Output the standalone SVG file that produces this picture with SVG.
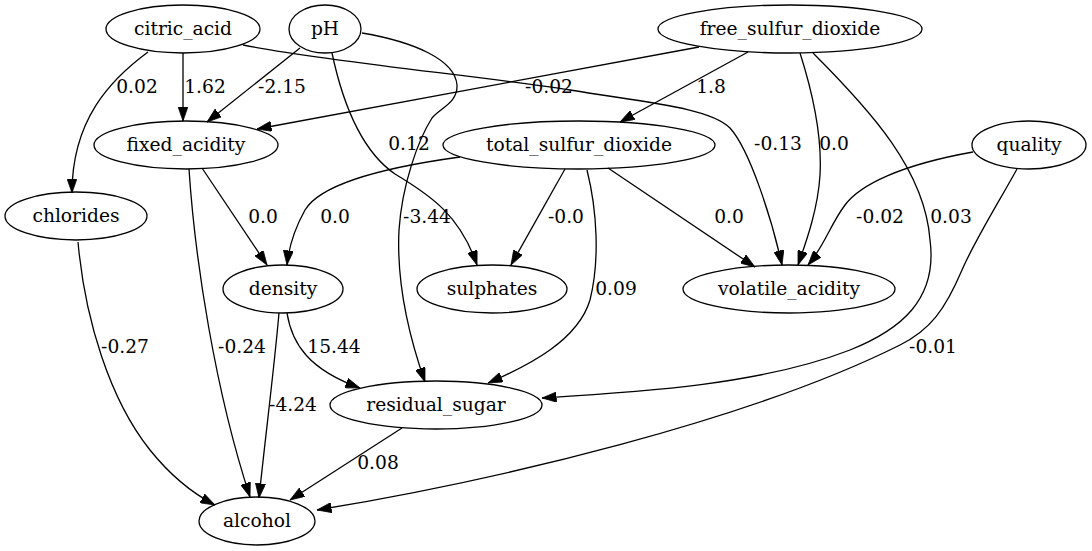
<svg xmlns="http://www.w3.org/2000/svg" width="1092" height="551" viewBox="0 0 1092 551">
<style>
.n ellipse{fill:none;stroke:#000;stroke-width:1.3}
.n text,.lbl text{font-family:"DejaVu Serif",serif;font-size:18.67px;fill:#000;text-anchor:middle}
.e path{fill:none;stroke:#000;stroke-width:1.3;marker-end:url(#ah)}
</style>
<defs>
<marker id="ah" viewBox="0 0 10 7" refX="10" refY="3.5" markerUnits="userSpaceOnUse" markerWidth="14.5" markerHeight="10.2" orient="auto">
<path d="M0,0 L10,3.5 L0,7 z" fill="#000" stroke="#000" stroke-width="0.5"/>
</marker>
</defs>
<rect width="1092" height="551" fill="#fff"/>
<g id="connectors" class="e">
<path d="M148,52 C110,80 72,120 72,193"/>
<path d="M183,53 L183,121"/>
<path d="M243,45 C330,62 480,76 570,90 C650,103 710,108 730,128 C750,150 772,220 782,265"/>
<path d="M300,48 L207,122"/>
<path d="M332,53 C342,100 360,150 395,174 C430,195 460,215 477,265"/>
<path d="M362,33 C415,42 455,60 457,85 C458,103 440,108 432,118 C418,140 402,185 399,230 C396,290 412,345 425,382"/>
<path d="M699,47 L257,129"/>
<path d="M748,52 L620,122"/>
<path d="M800,53 C815,100 822,140 820,175 C818,210 805,245 798,265"/>
<path d="M813,53 C870,110 925,170 930,240 C938,300 900,330 850,350 C760,385 640,392 542,398"/>
<path d="M973,152 C900,165 860,185 845,205 C830,225 825,245 808,265"/>
<path d="M1017,169 C1000,200 975,240 962,270 C945,310 930,330 900,345 C750,420 500,480 317,510"/>
<path d="M460,157 C380,168 320,185 305,210 C295,228 289,245 287,265"/>
<path d="M565,169 L511,265"/>
<path d="M587,170 C597,210 600,260 590,300 C578,340 530,365 488,383"/>
<path d="M608,168 L755,267"/>
<path d="M202,168 L267,265"/>
<path d="M189,169 C195,260 215,390 250,497"/>
<path d="M78,242 C85,320 110,400 150,450 C170,475 190,492 215,505"/>
<path d="M279,313 C274,370 265,440 259,498"/>
<path d="M287,313 C292,345 310,370 360,388"/>
<path d="M402,428 L290,500"/>
</g>
<g id="edge-labels" class="lbl">
<text x="137" y="92.5">0.02</text>
<text x="205" y="92.5">1.62</text>
<text x="282" y="92.5">-2.15</text>
<text x="549" y="92.5">-0.02</text>
<text x="711" y="92.5">1.8</text>
<text x="409" y="149.5">0.12</text>
<text x="778" y="149.5">-0.13</text>
<text x="834" y="149.5">0.0</text>
<text x="263" y="222.5">0.0</text>
<text x="335" y="222.5">0.0</text>
<text x="427" y="222.5">-3.44</text>
<text x="566" y="222.5">-0.0</text>
<text x="729" y="222.5">0.0</text>
<text x="880" y="222.5">-0.02</text>
<text x="951" y="222.5">0.03</text>
<text x="616" y="294.5">0.09</text>
<text x="125" y="352.5">-0.27</text>
<text x="242" y="352.5">-0.24</text>
<text x="334" y="352.5">15.44</text>
<text x="933" y="352.5">-0.01</text>
<text x="293" y="410.5">-4.24</text>
<text x="378" y="468.5">0.08</text>
</g>
<g id="citric_acid" class="n"><ellipse cx="183" cy="29" rx="77" ry="24"/><text x="183" y="35">citric_acid</text></g>
<g id="pH" class="n"><ellipse cx="325" cy="29" rx="36" ry="24"/><text x="325" y="35">pH</text></g>
<g id="free_sulfur_dioxide" class="n"><ellipse cx="790" cy="29" rx="132" ry="24"/><text x="790" y="35">free_sulfur_dioxide</text></g>
<g id="fixed_acidity" class="n"><ellipse cx="186" cy="145" rx="92" ry="24"/><text x="186" y="151">fixed_acidity</text></g>
<g id="total_sulfur_dioxide" class="n"><ellipse cx="579" cy="145" rx="136" ry="24"/><text x="579" y="151">total_sulfur_dioxide</text></g>
<g id="quality" class="n"><ellipse cx="1029" cy="145" rx="57" ry="24"/><text x="1029" y="151">quality</text></g>
<g id="chlorides" class="n"><ellipse cx="76" cy="216" rx="71" ry="24"/><text x="76" y="222">chlorides</text></g>
<g id="density" class="n"><ellipse cx="283" cy="289" rx="60" ry="24"/><text x="283" y="295">density</text></g>
<g id="sulphates" class="n"><ellipse cx="492" cy="289" rx="75" ry="24"/><text x="492" y="295">sulphates</text></g>
<g id="volatile_acidity" class="n"><ellipse cx="789" cy="289" rx="106" ry="24"/><text x="789" y="295">volatile_acidity</text></g>
<g id="residual_sugar" class="n"><ellipse cx="436" cy="405" rx="106" ry="24"/><text x="436" y="411">residual_sugar</text></g>
<g id="alcohol" class="n"><ellipse cx="257" cy="521" rx="58" ry="24"/><text x="257" y="527">alcohol</text></g>
</svg>
